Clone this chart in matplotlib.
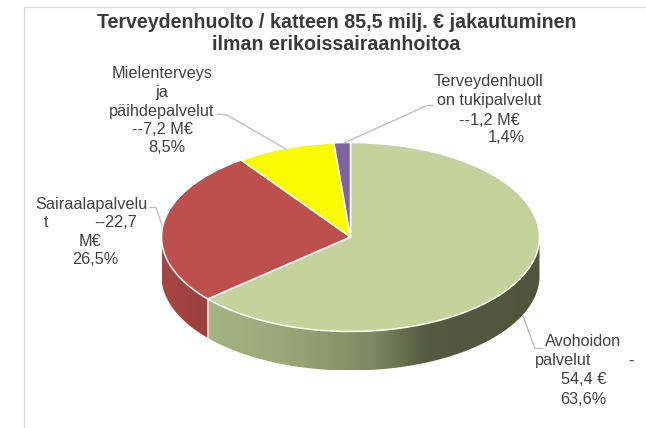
import numpy as np
import matplotlib
matplotlib.use("Agg")
import matplotlib.pyplot as plt
from matplotlib.patches import Polygon
from matplotlib.lines import Line2D
from matplotlib.colors import LinearSegmentedColormap

categories = ["Avohoidon palvelut", "Sairaalapalvelut", "Mielenterveys ja päihdepalvelut", "Terveydenhuollon tukipalvelut"]
values = [54.4, 22.7, 7.2, 1.2]
colors = ["#c3d39b", "#bd504d", "#fbfb00", "#8064a2"]
title_lines = ["Terveydenhuolto / katteen 85,5 milj. € jakautuminen", "ilman erikoissairaanhoitoa"]

W, H = 646, 428
plt.rcParams["font.family"] = ["Liberation Sans", "DejaVu Sans"]
fig = plt.figure(figsize=(W / 100, H / 100), dpi=100, facecolor="white")

# overlay axes in pixel coordinates for text, frame and leader lines
ov = fig.add_axes([0, 0, 1, 1], zorder=3)
ov.set_xlim(0, W); ov.set_ylim(H, 0); ov.axis("off"); ov.patch.set_alpha(0)

# pie axes: an ellipse is obtained from a non-equal aspect
cx, cy, rx, ry, depth = 350.5, 237.0, 189.0, 94.5, 39.0
d = depth / ry
pad = 4
left, right = cx - rx - pad, cx + rx + pad
top, bottom = cy - ry - pad, cy + ry + depth + pad
ax = fig.add_axes([left / W, 1 - bottom / H, (right - left) / W, (bottom - top) / H], zorder=2)
wedges, _ = ax.pie(values, colors=colors, startangle=90, counterclock=False, radius=1,
                   wedgeprops=dict(edgecolor="white", linewidth=1.1, zorder=5))
ax.set_aspect("auto")
ax.set_xlim(-1 - pad / rx, 1 + pad / rx)
ax.set_ylim(-1 - d - pad / ry, 1 + pad / ry)

# side wall, derived from the shares
fr = np.cumsum([0] + values) / sum(values)
bound = fr * 360.0  # clockwise from 12 o'clock


def wall(a0, a1):
    t = np.radians(np.linspace(a0, a1, 200))
    x, y = np.sin(t), np.cos(t)
    return np.r_[np.c_[x, y], np.c_[x[::-1], y[::-1] - d]]


green_map = LinearSegmentedColormap.from_list(
    "g", [(0, "#a6b584"), (0.25, "#98a677"), (0.5, "#7c8961"), (0.66, "#54593f"), (1, "#50543c")])
red_map = LinearSegmentedColormap.from_list("r", ["#a64643", "#9c403d"])
for a0, a1, cmap in [(90, bound[1], green_map), (bound[1], 270, red_map)]:
    pg = Polygon(wall(a0, a1), closed=True, facecolor="none", edgecolor="none", zorder=3)
    ax.add_patch(pg)
    xs = np.sin(np.radians([a0, a1]))
    if cmap is green_map:
        xs = np.array([xs[1], 1.0])
    else:
        xs = np.array([-1.0, xs[0]])
    im = ax.imshow(np.linspace(0, 1, 256)[None, :], cmap=cmap, aspect="auto", zorder=3,
                   extent=(xs[0], xs[1], -1 - d, 1), interpolation="bilinear")
    im.set_clip_path(pg)
ax.set_aspect("auto")
ax.set_xlim(-1 - pad / rx, 1 + pad / rx)
ax.set_ylim(-1 - d - pad / ry, 1 + pad / ry)
t = np.radians(bound[1])
ax.plot([np.sin(t)] * 2, [np.cos(t), np.cos(t) - d], color="#e6d5d5", lw=1.4, zorder=4)
ax.axis("off")

# frame
ov.add_line(Line2D([23.5, 23.5, W], [H, 6.5, 6.5], color="#d9d9d9", lw=1))

# title
ov.text(336.5, 22, title_lines[0], fontsize=14.1, fontweight="bold", color="#3a3a3a", ha="center", va="center")
ov.text(336.5, 44, title_lines[1], fontsize=14.1, fontweight="bold", color="#3a3a3a", ha="center", va="center")

# data labels, line by line (wrapped as in the original)
label_lines = [
    ("Mielenterveys", 162, 73), ("ja", 162, 92), ("päihdepalvelut", 162, 111),
    ("--7,2 M€", 162, 130), ("8,5%", 167, 148),
    ("Sairaalapalvelu", 91, 204), ("t", 46, 222), ("--22,7", 116, 222),
    ("M€", 90, 241), ("26,5%", 95, 259),
    ("Terveydenhuoll", 489, 81), ("on tukipalvelut", 489, 100),
    ("--1,2 M€", 489, 120), ("1,4%", 506, 138),
    ("Avohoidon", 583, 342), ("palvelut", 563, 361), ("-", 631, 361),
    ("54,4 €", 584, 380), ("63,6%", 583, 399),
]
for s, x, y in label_lines:
    ov.text(x, y, s, fontsize=11.7, color="#404040", ha="center", va="center")

# leader lines
leaders = [
    ([218, 226, 286], [114.5, 114.5, 149]),
    ([150, 156, 162], [207.5, 207.5, 225]),
    ([433, 427, 344], [105.5, 105.5, 143]),
    ([543, 535, 523], [348.5, 348.5, 316]),
]
for xs, ys in leaders:
    ov.add_line(Line2D(xs, ys, color="#bfbfbf", lw=1))

fig.savefig("out.png", dpi=100)
